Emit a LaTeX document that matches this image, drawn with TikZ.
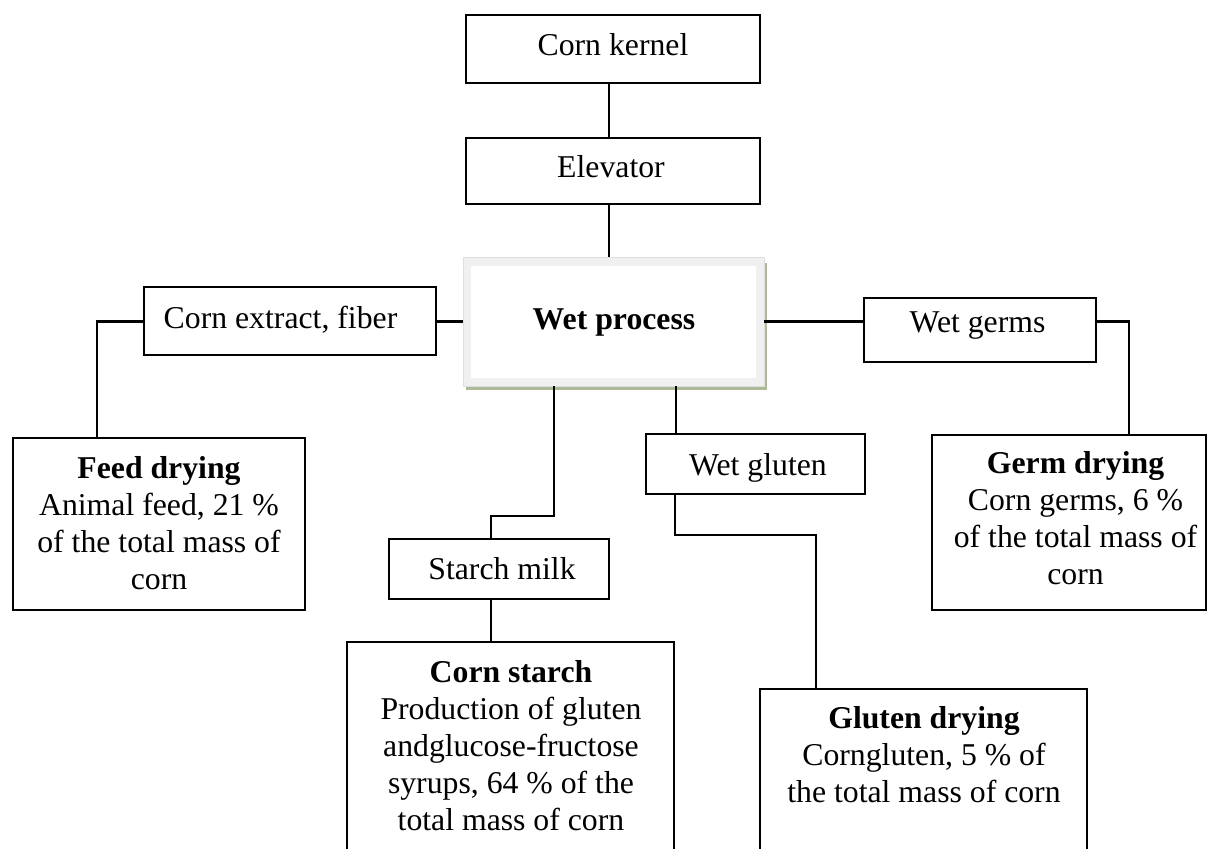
\documentclass[tikz,border=0pt]{standalone}
\usepackage{fontspec}
\setmainfont{Liberation Serif}
\newcommand\pxu{0.378pt}
\newcommand\mlines[1]{\begin{tabular}[t]{@{}c@{}}#1\end{tabular}}
\definecolor{framegray}{HTML}{F0F0F0}
\definecolor{shadowolive}{HTML}{AEB999}
\begin{document}
\begin{tikzpicture}[x=\pxu, y=-\pxu,
  box/.style={draw=black, line width=0.8pt, fill=white, inner sep=0pt},
  lbl/.style={font=\fontsize{12pt}{14pt}\selectfont, inner sep=0pt, anchor=base},
  conn/.style={draw=black, line width=0.8pt}
]
\useasboundingbox (0,0) rectangle (1208,849);
\clip (0,0) rectangle (1208,849);
\fill[white] (0,0) rectangle (1208,849);

% boxes
\node[box, minimum width=294*\pxu, minimum height=68*\pxu] (kernel) at (613,49) {};
\node[box, minimum width=294*\pxu, minimum height=66*\pxu] (elevator) at (613,171) {};
\fill[shadowolive] (466,263) rectangle (767,390);
\node[draw=gray!25, line width=0.3pt, fill=framegray, inner sep=0pt,
      minimum width=301*\pxu, minimum height=129*\pxu] (wet) at (613.5,321.5) {};
\node[fill=white, inner sep=0pt, minimum width=285*\pxu, minimum height=112*\pxu] (wetin) at (613.5,322) {};
\node[box, minimum width=292*\pxu, minimum height=68*\pxu] (extract) at (290,321) {};
\node[box, minimum width=292*\pxu, minimum height=172*\pxu] (feed) at (159,524) {};
\node[box, minimum width=232*\pxu, minimum height=64*\pxu] (germs) at (980,330) {};
\node[box, minimum width=274*\pxu, minimum height=175*\pxu] (germdry) at (1069,522.5) {};
\node[box, minimum width=219*\pxu, minimum height=60*\pxu] (gluten) at (755.5,464) {};
\node[box, minimum width=220*\pxu, minimum height=60*\pxu] (starch) at (499,569) {};
\node[box, minimum width=327*\pxu, minimum height=260*\pxu] (cstarch) at (510.5,772) {};
\node[box, minimum width=327*\pxu, minimum height=220*\pxu] (gdry) at (923.5,799) {};

% connector helper coordinates
\coordinate (vx) at (609,0);
\coordinate (lx) at (97,0);
\coordinate (rx) at (1129,0);
\coordinate (sx1) at (554,516);
\coordinate (sx2) at (491,0);
\coordinate (gx) at (676,0);
\coordinate (gy) at (675,535);
\coordinate (gx2) at (816,0);

% connectors
\draw[conn] (kernel.south -| vx) -- (elevator.north -| vx);
\draw[conn] (elevator.south -| vx) -- (wet.north -| vx);
\draw[conn] (wet.west) -- (wet.west -| extract.east);
\draw[conn] (extract.west |- wet.west) -| (feed.north -| lx);
\draw[conn] (wet.east) -- (wet.east -| germs.west);
\draw[conn] (germs.east |- wet.east) -| (germdry.north -| rx);
\draw[conn] (wet.south -| sx1) -- (sx1) -| (starch.north -| sx2);
\draw[conn] (starch.south -| sx2) -- (cstarch.north -| sx2);
\draw[conn] (wet.south -| gx) -- (gluten.north -| gx);
\draw[conn] (gluten.south -| gy) -- (gy) -| (gdry.north -| gx2);

% texts
\node[lbl] (tkernel) at (613,55) {Corn kernel};
\node[lbl] (televator) at (611,177) {Elevator};
\node[lbl] (twet) at (614,329.5) {\textbf{Wet process}};
\node[lbl] (textract) at (280.5,328) {Corn extract, fiber};
\node[lbl] (tgerms) at (977.5,332) {Wet germs};
\node[lbl] (tgluten) at (758,475) {Wet gluten};
\node[lbl] (tstarch) at (502,579) {Starch milk};
\node[lbl] (tfeed) at (159,478) {\mlines{\textbf{Feed drying}\\Animal feed, 21 \%\\of the total mass of\\corn}};
\node[lbl] (tgermdry) at (1075.5,473) {\mlines{\textbf{Germ drying}\\Corn germs, 6 \%\\of the total mass of\\corn}};
\node[lbl] (tcstarch) at (511,682) {\mlines{\textbf{Corn starch}\\Production of gluten\\andglucose-fructose\\syrups, 64 \% of the\\total mass of corn}};
\node[lbl] (tgdry) at (924,728) {\mlines{\textbf{Gluten drying}\\Corngluten, 5 \% of\\the total mass of corn}};
\end{tikzpicture}
\end{document}
